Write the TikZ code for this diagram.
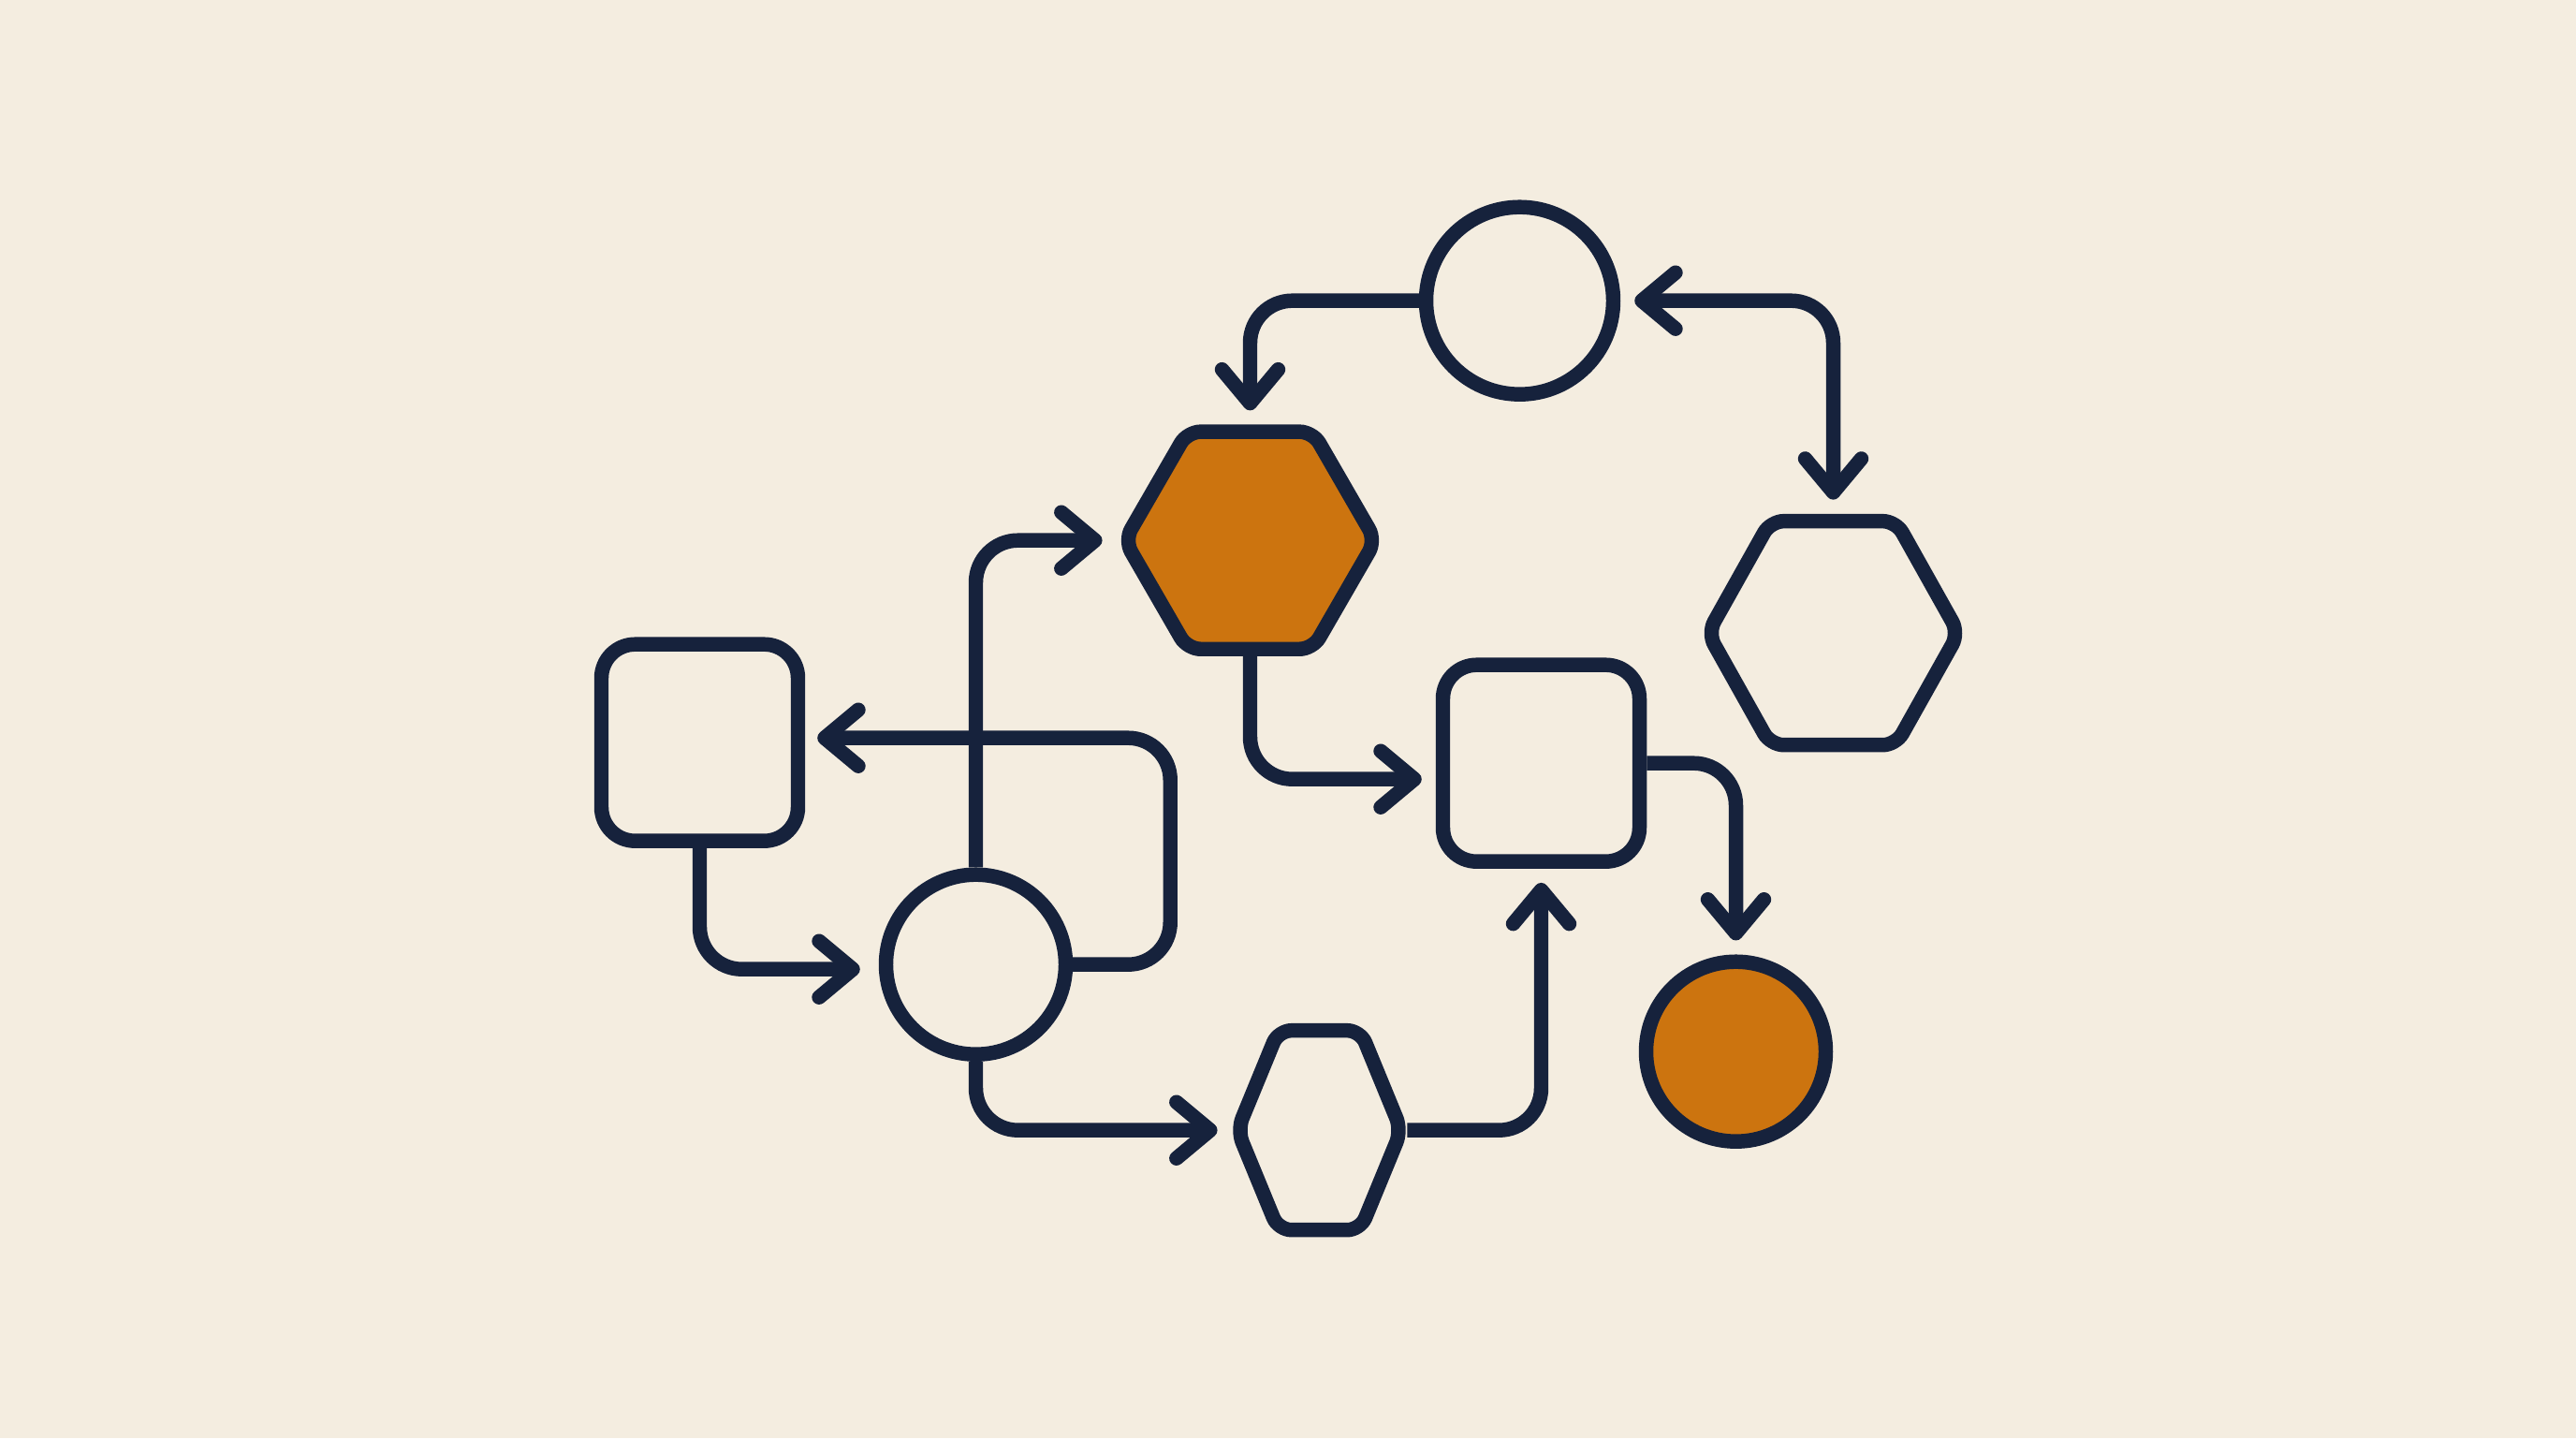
\documentclass[tikz,border=0pt]{standalone}
\usetikzlibrary{shapes.geometric,arrows.meta,positioning}
\definecolor{paper}{HTML}{F4EDE0}
\definecolor{ink}{HTML}{16223C}
\definecolor{amber}{HTML}{CC740F}

\begin{document}
\begin{tikzpicture}[
            node distance=1cm and 1cm, on grid,
            every node/.style={draw=ink, line width=4.4pt, inner sep=0pt},
            circ/.style={circle, minimum size=1.92cm},
            box/.style={rectangle, rounded corners=0.36cm, minimum size=2.1cm},
            hexa/.style={regular polygon, regular polygon sides=6, rounded corners=0.14cm, minimum size=2.68cm},
            filled/.style={fill=amber},
            link/.style={->, draw=ink, line width=4.4pt, rounded corners=0.45cm, shorten >=0.15cm,
              >={Straight Barb[length=3.6mm, width=6mm, round]}}
          ]

          % Background
          \fill[paper] (-10.425,-5.058) rectangle (17.095,10.302);
          \useasboundingbox (-10.425,-5.058) rectangle (17.095,10.302);

          % Nodes
          \node[circ] (c2) {};
          \node[box, above left=2.37cm and 2.95cm of c2] (s1) {};
          \node[hexa, filled, above right=4.53cm and 2.93cm of c2] (h1) {};
          \node[circ, minimum size=2cm, above right=2.56cm and 2.88cm of h1] (c1) {};
          \node[hexa, yscale=1.03, below right=3.55cm and 3.35cm of c1] (h2) {};
          \node[box, below right=2.38cm and 3.11cm of h1] (s2) {};
          \node[hexa, xscale=0.712, minimum size=2.46cm, below right=1.77cm and 3.67cm of c2] (h3) {};
          \node[circ, filled, below right=3.08cm and 2.08cm of s2] (c3) {};

          % Edges
          \draw[link] (c1.west) -| (h1.north);
          \draw[link, <->, shorten <=0.15cm] (c1.east) -| (h2.north);
          \draw[link] (c2.north) |- (h1.west);
          \draw[link, shorten >=0.13cm] (c2.east) -- ++(1.04cm,0) |- ([yshift=0.05cm]s1.east);
          \draw[link, shorten >=0.2cm] (s1.south) |- ([yshift=-0.05cm]c2.west);
          \draw[link] (c2.south) |- (h3.west);
          \draw[link] (h3.east) -| (s2.south);
          \draw[link] (h1.south) |- ([yshift=-0.17cm]s2.west);
          \draw[link] (s2.east) -| (c3.north);

        \end{tikzpicture}
\end{document}
